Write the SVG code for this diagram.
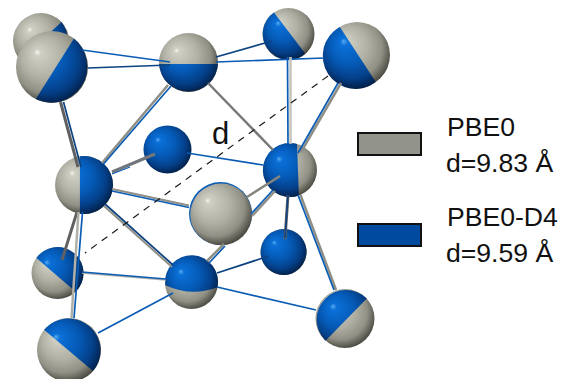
<svg xmlns="http://www.w3.org/2000/svg" width="563" height="379" viewBox="0 0 563 379">
<style>
.g{fill:url(#gray)}
.b{fill:url(#blue)}
.sg{stroke:#8f8f86;stroke-width:2.500;fill:none}
.sd{stroke:#5f6062;stroke-width:3;fill:none}
.sb{stroke:#0a5cb4;stroke-width:1.700;fill:none}
.sk{stroke:#0b427f;stroke-width:1.700;fill:none}
.dash{stroke:#1a1a1a;stroke-width:1.200;stroke-dasharray:7 6;fill:none}
text{font-family:"Liberation Sans",Arial,sans-serif;fill:#111}
.leg{font-size:26.600px}
.box{stroke:#111;stroke-width:2}
</style>
<defs>
<radialGradient id="gray" gradientUnits="userSpaceOnUse" cx="-0.1" cy="-0.15" r="1.15" fx="-0.42" fy="-0.42">
<stop offset="0" stop-color="#f6f6f0"/><stop offset="0.08" stop-color="#cfcfc3"/><stop offset="0.5" stop-color="#b1b1a5"/><stop offset="0.8" stop-color="#909085"/><stop offset="1" stop-color="#4e4e46"/>
</radialGradient>
<radialGradient id="blue" gradientUnits="userSpaceOnUse" cx="-0.1" cy="-0.15" r="1.15" fx="-0.42" fy="-0.42">
<stop offset="0" stop-color="#58abf0"/><stop offset="0.1" stop-color="#0a70d8"/><stop offset="0.5" stop-color="#055ab6"/><stop offset="0.8" stop-color="#043f88"/><stop offset="1" stop-color="#02234e"/>
</radialGradient>
</defs>
<g id="node-1" transform="translate(41 41) scale(28)"><circle class="g" r="1"/><path class="b" d="M.73 -.68A1 1 0 0 1 -.73 .68Z"/></g>
<g id="node-2" transform="translate(52 67) scale(36)"><circle class="g" r="1"/><path class="b" d="M.61 -.79A1 1 0 0 1 -.45 .89Z"/></g>
<g id="node-3" transform="translate(188.5 62.5) scale(29.5)"><circle class="g" r="1"/><path class="b" d="M.998 .05A1 1 0 0 1 -.998 .05Z"/></g>
<g id="node-4" transform="translate(288.5 34) scale(26)"><circle class="g" r="1"/><path class="b" d="M.65 .76A1 1 0 1 1 -.56 -.83Z"/></g>
<g id="node-5" transform="translate(357 55) scale(33)"><circle class="g" r="1"/><path class="b" d="M.57 .82A1 1 0 1 1 -.52 -.85Z"/></g>
<g id="node-6" transform="translate(167.5 149.5) scale(24)"><circle class="b" r="1"/></g>
<g id="node-7" transform="translate(84 185) scale(29)"><circle class="g" r="1"/><path class="b" d="M-.14 -.99A1 1 0 1 1 -.14 .99Z"/></g>
<g id="node-8" transform="translate(290 170) scale(27)"><circle class="g" r="1"/><path class="b" d="M.33 .94A1 1 0 1 1 .26 -.965Z"/></g>
<g id="node-9" transform="translate(220.500 213.500) scale(31.500)"><circle fill="#0a5cb4" r="1"/><circle class="g" r=".98" cx=".02" cy=".03"/></g>
<g id="node-10" transform="translate(283.5 252) scale(23)"><circle class="g" r="1"/><path class="b" d="M.37 .93A1 1 0 1 1 1 -.1A1.05 1.05 0 0 1 .37 .93Z"/></g>
<g id="node-11" transform="translate(57.5 273) scale(26)"><circle class="g" r="1"/><path class="b" d="M-.81 -.58A1 1 0 1 1 .7 .72Z"/></g>
<g id="node-12" transform="translate(191.5 282.5) scale(26.5)"><circle class="g" r="1"/><path class="b" d="M-.99 .1A1 1 0 1 1 .98 .18Q0 .55 -.99 .1Z"/></g>
<g id="node-13" transform="translate(69 350) scale(32)"><circle class="g" r="1"/><path class="b" d="M-.78 -.63A1 1 0 1 1 .75 .66Z"/></g>
<g id="node-14" transform="translate(345 318.5) scale(29.5)"><circle class="g" r="1"/><path class="b" d="M-.66 .75A1 1 0 1 1 .74 -.68Z"/></g>
<g id="connectors">
<path class="sd" d="M60.500 102L78 167"/><path class="sk" d="M63.500 102L81 167"/>
<path class="sb" d="M82 50L170 62"/>
<path class="sk" d="M88 68L170 65"/>
<path class="sg" d="M168 85L102 163"/><path class="sb" d="M171 86L103.500 164"/>
<path class="sd" d="M112 172L155 154" style="stroke:#71767c"/><path class="sb" d="M112 174L130 167" style="stroke-width:1.200"/>
<path class="sb" d="M187 153L263 165"/>
<path class="sk" d="M216 57L272 41"/>
<path class="sb" d="M216 62L324 58"/>
<path class="sg" d="M290.500 57L290.500 144" style="stroke:#c4c4bc"/><path class="sb" d="M287.500 57L288 144"/>
<path class="sg" d="M341 83L301 152"/><path class="sb" d="M338 83L298 153"/>
<path class="sd" d="M208 83L273 150" style="stroke-width:2.500;stroke:#77787a"/>
<path class="sd" d="M280 176L247 197" style="stroke-width:2.500;stroke:#85857e"/>
<path class="sg" d="M275 191L252 216"/><path class="sb" d="M273 190L251 214"/>
<path class="sd" d="M288 195L285 239"/><path class="sk" d="M288 195L285 238" style="stroke-width:1.500"/>
<path class="sg" d="M300.500 195L336 290"/><path class="sb" d="M298 195L334 290"/>
<path class="sk" d="M269 256L217 273"/>
<path class="sb" d="M217 287L316 310"/>
<path class="sg" d="M207 261L224 244"/><path class="sb" d="M209 263L225 246"/>
<path class="sg" d="M112 189L189 205.500" style="stroke-width:2"/><path class="sb" d="M112 191L189 207.500" style="stroke-width:1.300"/>
<path class="sg" d="M104 206L172 267" style="stroke-width:2"/><path class="sk" d="M105 204L173 265"/>
<path class="sd" d="M77 212L62 260"/>
<path class="sg" d="M78.500 212L71.500 318" style="stroke:#b0b0a8"/><path class="sb" d="M82.500 212L74 318"/>
<path class="sg" d="M82 273L166 280" style="stroke-width:1.500;stroke:#b0b0a8"/><path class="sb" d="M82 272L166 279"/>
<path class="sb" d="M98 333L173 293"/>
<path class="dash" d="M328 76L85 253"/>
</g>
<text x="212" y="144" font-size="31">d</text>
<g id="legend-pbe0"><rect class="box" x="358" y="133" width="63" height="22" fill="#92938a"/><text class="leg" x="447" y="136">PBE0</text><text class="leg" x="446" y="172">d=9.83 Å</text></g>
<g id="legend-d4"><rect class="box" x="358" y="224" width="63" height="22" fill="#004a9f"/><text class="leg" x="447" y="226">PBE0-D4</text><text class="leg" x="446" y="262">d=9.59 Å</text></g>
</svg>
